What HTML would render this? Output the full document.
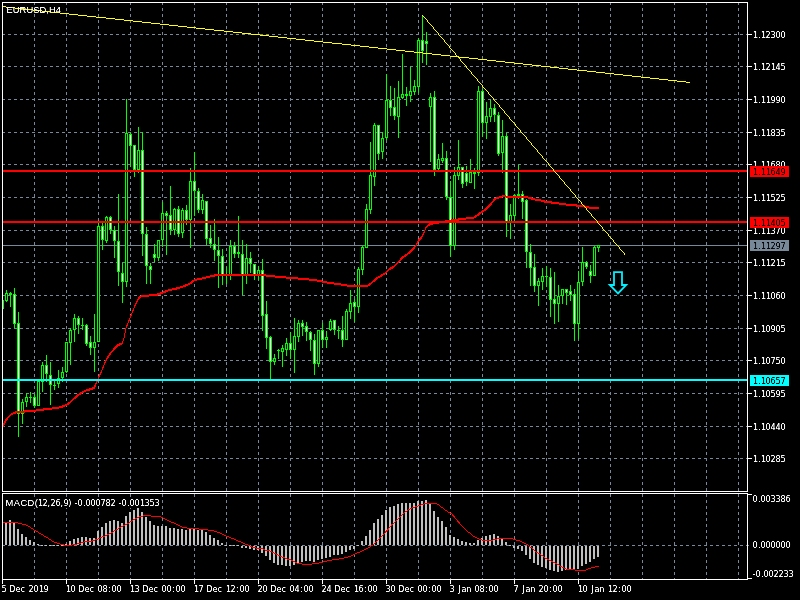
<!DOCTYPE html>
<html><head><meta charset="utf-8"><title>EURUSD,H4</title>
<style>
html,body{margin:0;padding:0;background:#000;width:800px;height:600px;overflow:hidden}
svg{display:block}
text{font-family:"DejaVu Sans Condensed","DejaVu Sans","Liberation Sans",sans-serif;font-size:9px;fill:#fff;stroke:#fff;stroke-width:0.03px}
text.a,tspan.a{font-family:"Liberation Sans",sans-serif;font-size:9.33px;stroke-width:0.02px}
text.k{fill:#000;stroke:#000}
</style></head><body>
<svg width="800" height="600" viewBox="0 0 800 600">
<defs><filter id="bt" x="0" y="0" width="100%" height="100%" filterUnits="userSpaceOnUse" color-interpolation-filters="sRGB"><feComponentTransfer><feFuncA type="table" tableValues="0 0.08 0.6 0.95 1"/></feComponentTransfer></filter></defs>
<rect width="800" height="600" fill="#000"/>
<g shape-rendering="crispEdges" stroke="#778899" stroke-width="1" fill="none" stroke-dasharray="3 3">
<line x1="2" x2="747" y1="34.5" y2="34.5"/>
<line x1="2" x2="747" y1="66.5" y2="66.5"/>
<line x1="2" x2="747" y1="99.5" y2="99.5"/>
<line x1="2" x2="747" y1="132.5" y2="132.5"/>
<line x1="2" x2="747" y1="164.5" y2="164.5"/>
<line x1="2" x2="747" y1="197.5" y2="197.5"/>
<line x1="2" x2="747" y1="230.5" y2="230.5"/>
<line x1="2" x2="747" y1="262.5" y2="262.5"/>
<line x1="2" x2="747" y1="295.5" y2="295.5"/>
<line x1="2" x2="747" y1="328.5" y2="328.5"/>
<line x1="2" x2="747" y1="360.5" y2="360.5"/>
<line x1="2" x2="747" y1="393.5" y2="393.5"/>
<line x1="2" x2="747" y1="426.5" y2="426.5"/>
<line x1="2" x2="747" y1="458.5" y2="458.5"/>
<line x1="34.5" x2="34.5" y1="2" y2="491"/>
<line x1="34.5" x2="34.5" y1="494" y2="579"/>
<line x1="66.5" x2="66.5" y1="2" y2="491"/>
<line x1="66.5" x2="66.5" y1="494" y2="579"/>
<line x1="98.5" x2="98.5" y1="2" y2="491"/>
<line x1="98.5" x2="98.5" y1="494" y2="579"/>
<line x1="130.5" x2="130.5" y1="2" y2="491"/>
<line x1="130.5" x2="130.5" y1="494" y2="579"/>
<line x1="162.5" x2="162.5" y1="2" y2="491"/>
<line x1="162.5" x2="162.5" y1="494" y2="579"/>
<line x1="194.5" x2="194.5" y1="2" y2="491"/>
<line x1="194.5" x2="194.5" y1="494" y2="579"/>
<line x1="226.5" x2="226.5" y1="2" y2="491"/>
<line x1="226.5" x2="226.5" y1="494" y2="579"/>
<line x1="258.5" x2="258.5" y1="2" y2="491"/>
<line x1="258.5" x2="258.5" y1="494" y2="579"/>
<line x1="290.5" x2="290.5" y1="2" y2="491"/>
<line x1="290.5" x2="290.5" y1="494" y2="579"/>
<line x1="322.5" x2="322.5" y1="2" y2="491"/>
<line x1="322.5" x2="322.5" y1="494" y2="579"/>
<line x1="354.5" x2="354.5" y1="2" y2="491"/>
<line x1="354.5" x2="354.5" y1="494" y2="579"/>
<line x1="386.5" x2="386.5" y1="2" y2="491"/>
<line x1="386.5" x2="386.5" y1="494" y2="579"/>
<line x1="418.5" x2="418.5" y1="2" y2="491"/>
<line x1="418.5" x2="418.5" y1="494" y2="579"/>
<line x1="450.5" x2="450.5" y1="2" y2="491"/>
<line x1="450.5" x2="450.5" y1="494" y2="579"/>
<line x1="482.5" x2="482.5" y1="2" y2="491"/>
<line x1="482.5" x2="482.5" y1="494" y2="579"/>
<line x1="514.5" x2="514.5" y1="2" y2="491"/>
<line x1="514.5" x2="514.5" y1="494" y2="579"/>
<line x1="546.5" x2="546.5" y1="2" y2="491"/>
<line x1="546.5" x2="546.5" y1="494" y2="579"/>
<line x1="578.5" x2="578.5" y1="2" y2="491"/>
<line x1="578.5" x2="578.5" y1="494" y2="579"/>
<line x1="610.5" x2="610.5" y1="2" y2="491"/>
<line x1="610.5" x2="610.5" y1="494" y2="579"/>
<line x1="642.5" x2="642.5" y1="2" y2="491"/>
<line x1="642.5" x2="642.5" y1="494" y2="579"/>
<line x1="674.5" x2="674.5" y1="2" y2="491"/>
<line x1="674.5" x2="674.5" y1="494" y2="579"/>
<line x1="706.5" x2="706.5" y1="2" y2="491"/>
<line x1="706.5" x2="706.5" y1="494" y2="579"/>
<line x1="738.5" x2="738.5" y1="2" y2="491"/>
<line x1="738.5" x2="738.5" y1="494" y2="579"/>
<line x1="2" x2="751" y1="545.5" y2="545.5"/>
</g>
<g shape-rendering="crispEdges">
<rect x="3" y="245" width="744" height="1" fill="#778899"/>
<rect x="3" y="300" width="1" height="9" fill="#00ff00"/>
<path fill="#00ff00" d="M6 290h1v12h-1zM10 292h1v15h-1zM14 288h1v40h-1zM18 312h1v125h-1zM22 399h1v25h-1zM26 393h1v14h-1zM30 392h1v11h-1zM34 394h1v14h-1zM38 381h1v25h-1zM42 362h1v30h-1zM46 355h1v27h-1zM50 362h1v43h-1zM54 381h1v9h-1zM58 370h1v18h-1zM62 367h1v15h-1zM66 342h1v31h-1zM70 328h1v37h-1zM74 314h1v28h-1zM78 316h1v18h-1zM82 318h1v12h-1zM86 324h1v22h-1zM90 336h1v19h-1zM94 314h1v58h-1zM98 223h1v119h-1zM102 223h1v27h-1zM106 216h1v27h-1zM110 216h1v18h-1zM114 226h1v32h-1zM118 194h1v92h-1zM122 263h1v40h-1zM126 99h1v188h-1zM130 132h1v35h-1zM134 145h1v32h-1zM138 127h1v46h-1zM142 132h1v124h-1zM146 227h1v57h-1zM150 263h1v21h-1zM154 244h1v18h-1zM158 240h1v21h-1zM162 202h1v45h-1zM166 211h1v44h-1zM170 186h1v49h-1zM174 208h1v27h-1zM178 206h1v31h-1zM182 208h1v30h-1zM186 205h1v20h-1zM190 168h1v80h-1zM194 152h1v64h-1zM198 188h1v25h-1zM202 194h1v20h-1zM206 201h1v44h-1zM210 225h1v23h-1zM214 219h1v42h-1zM218 237h1v51h-1zM222 249h1v36h-1zM226 267h1v17h-1zM230 240h1v40h-1zM234 242h1v16h-1zM238 216h1v42h-1zM242 240h1v55h-1zM246 244h1v40h-1zM250 252h1v21h-1zM254 264h1v16h-1zM258 266h1v14h-1zM262 259h1v72h-1zM266 301h1v48h-1zM270 336h1v44h-1zM274 354h1v11h-1zM278 349h1v10h-1zM282 345h1v22h-1zM286 338h1v18h-1zM290 332h1v27h-1zM294 318h1v55h-1zM298 320h1v22h-1zM302 320h1v16h-1zM306 322h1v19h-1zM310 331h1v20h-1zM314 334h1v41h-1zM318 330h1v37h-1zM322 323h1v25h-1zM326 331h1v17h-1zM330 319h1v12h-1zM334 320h1v15h-1zM338 326h1v13h-1zM342 316h1v31h-1zM346 309h1v31h-1zM350 290h1v29h-1zM354 299h1v23h-1zM358 267h1v46h-1zM362 246h1v29h-1zM366 204h1v44h-1zM370 142h1v72h-1zM374 123h1v63h-1zM378 125h1v35h-1zM382 132h1v27h-1zM386 74h1v66h-1zM390 86h1v30h-1zM394 88h1v32h-1zM398 81h1v57h-1zM402 54h1v45h-1zM406 87h1v19h-1zM410 67h1v35h-1zM414 80h1v15h-1zM418 38h1v55h-1zM422 15h1v48h-1zM426 32h1v33h-1zM430 93h1v69h-1zM434 91h1v85h-1zM438 154h1v16h-1zM442 143h1v20h-1zM446 151h1v49h-1zM450 181h1v76h-1zM454 167h1v83h-1zM458 140h1v40h-1zM462 167h1v21h-1zM466 166h1v20h-1zM470 159h1v24h-1zM474 168h1v21h-1zM478 86h1v90h-1zM482 89h1v48h-1zM486 102h1v37h-1zM490 100h1v22h-1zM494 104h1v18h-1zM498 112h1v44h-1zM502 120h1v53h-1zM506 133h1v104h-1zM510 204h1v35h-1zM514 194h1v27h-1zM518 165h1v34h-1zM522 191h1v28h-1zM526 199h1v69h-1zM530 244h1v42h-1zM534 254h1v38h-1zM538 278h1v28h-1zM542 268h1v22h-1zM546 266h1v21h-1zM550 268h1v49h-1zM554 272h1v52h-1zM558 285h1v37h-1zM562 289h1v15h-1zM566 289h1v16h-1zM570 285h1v16h-1zM574 289h1v52h-1zM578 271h1v68h-1zM582 247h1v39h-1zM586 261h1v8h-1zM590 265h1v18h-1zM594 246h1v30h-1zM598 245h1v7h-1z"/>
<path fill="#00ff00" d="M5 293h3v8h-3zM9 293h3v2h-3zM13 294h3v30h-3zM17 323h3v91h-3zM21 402h3v12h-3zM25 397h3v5h-3zM29 397h3v1h-3zM33 397h3v9h-3zM37 381h3v25h-3zM41 365h3v17h-3zM45 365h3v9h-3zM49 375h3v10h-3zM53 385h3v1h-3zM57 378h3v6h-3zM61 372h3v6h-3zM65 342h3v30h-3zM69 330h3v13h-3zM73 318h3v12h-3zM77 318h3v7h-3zM81 325h3v1h-3zM85 325h3v19h-3zM89 342h3v6h-3zM93 342h3v6h-3zM97 226h3v116h-3zM101 226h3v14h-3zM105 217h3v24h-3zM109 217h3v13h-3zM113 230h3v11h-3zM117 241h3v31h-3zM121 273h3v9h-3zM125 133h3v149h-3zM129 134h3v12h-3zM133 145h3v25h-3zM137 150h3v20h-3zM141 150h3v84h-3zM145 234h3v32h-3zM149 266h3v4h-3zM153 254h3v4h-3zM157 240h3v18h-3zM161 213h3v27h-3zM165 213h3v3h-3zM169 215h3v15h-3zM173 209h3v21h-3zM177 209h3v25h-3zM181 210h3v23h-3zM185 210h3v10h-3zM189 181h3v39h-3zM193 181h3v10h-3zM197 191h3v19h-3zM201 200h3v10h-3zM205 201h3v38h-3zM209 238h3v6h-3zM213 244h3v6h-3zM217 250h3v6h-3zM221 256h3v19h-3zM225 275h3v1h-3zM229 246h3v30h-3zM233 246h3v8h-3zM237 252h3v2h-3zM241 254h3v22h-3zM245 258h3v18h-3zM249 258h3v6h-3zM253 264h3v12h-3zM257 270h3v6h-3zM261 270h3v46h-3zM265 314h3v24h-3zM269 337h3v25h-3zM273 358h3v4h-3zM277 350h3v1h-3zM281 348h3v4h-3zM285 343h3v7h-3zM289 343h3v7h-3zM293 336h3v14h-3zM297 323h3v14h-3zM301 323h3v4h-3zM305 326h3v6h-3zM309 332h3v8h-3zM313 340h3v24h-3zM317 330h3v34h-3zM321 330h3v10h-3zM325 337h3v3h-3zM329 321h3v9h-3zM333 320h3v10h-3zM337 330h3v1h-3zM341 330h3v10h-3zM345 311h3v29h-3zM349 303h3v9h-3zM353 302h3v5h-3zM357 269h3v38h-3zM361 247h3v23h-3zM365 209h3v39h-3zM369 175h3v35h-3zM373 125h3v52h-3zM377 125h3v29h-3zM381 138h3v14h-3zM385 100h3v38h-3zM389 100h3v8h-3zM393 107h3v9h-3zM397 97h3v20h-3zM401 94h3v4h-3zM405 94h3v2h-3zM409 91h3v5h-3zM413 86h3v6h-3zM417 40h3v47h-3zM421 40h3v11h-3zM425 41h3v3h-3zM429 97h3v10h-3zM433 97h3v73h-3zM437 159h3v10h-3zM441 158h3v3h-3zM445 158h3v39h-3zM449 197h3v49h-3zM453 175h3v71h-3zM457 167h3v9h-3zM461 167h3v17h-3zM465 173h3v9h-3zM469 172h3v11h-3zM473 172h3v2h-3zM477 91h3v82h-3zM481 91h3v32h-3zM485 116h3v7h-3zM489 108h3v9h-3zM493 108h3v7h-3zM497 115h3v39h-3zM501 136h3v17h-3zM505 136h3v86h-3zM509 215h3v7h-3zM513 195h3v21h-3zM517 194h3v2h-3zM521 194h3v8h-3zM525 200h3v52h-3zM529 252h3v16h-3zM533 267h3v19h-3zM537 281h3v5h-3zM541 276h3v6h-3zM545 276h3v1h-3zM549 277h3v23h-3zM553 299h3v5h-3zM557 296h3v8h-3zM561 289h3v7h-3zM565 289h3v4h-3zM569 291h3v4h-3zM573 294h3v30h-3zM577 282h3v42h-3zM581 262h3v20h-3zM585 262h3v5h-3zM589 271h3v5h-3zM593 247h3v29h-3zM597 245h3v3h-3z"/>
<path fill="#fff" d="M14 295h1v28h-1zM18 324h1v89h-1zM34 398h1v7h-1zM46 366h1v7h-1zM50 376h1v8h-1zM78 319h1v5h-1zM86 326h1v17h-1zM90 343h1v4h-1zM102 227h1v12h-1zM110 218h1v11h-1zM114 231h1v9h-1zM118 242h1v29h-1zM122 274h1v7h-1zM130 135h1v10h-1zM134 146h1v23h-1zM142 151h1v82h-1zM146 235h1v30h-1zM150 267h1v2h-1zM154 255h1v2h-1zM166 214h1v1h-1zM170 216h1v13h-1zM178 210h1v23h-1zM186 211h1v8h-1zM194 182h1v8h-1zM198 192h1v17h-1zM206 202h1v36h-1zM210 239h1v4h-1zM214 245h1v4h-1zM218 251h1v4h-1zM222 257h1v17h-1zM234 247h1v6h-1zM242 255h1v20h-1zM250 259h1v4h-1zM254 265h1v10h-1zM262 271h1v44h-1zM266 315h1v22h-1zM270 338h1v23h-1zM290 344h1v5h-1zM302 324h1v2h-1zM306 327h1v4h-1zM310 333h1v6h-1zM314 341h1v22h-1zM322 331h1v8h-1zM334 321h1v8h-1zM342 331h1v8h-1zM354 303h1v3h-1zM378 126h1v27h-1zM390 101h1v6h-1zM394 108h1v7h-1zM422 41h1v9h-1zM426 42h1v1h-1zM434 98h1v71h-1zM446 159h1v37h-1zM450 198h1v47h-1zM462 168h1v15h-1zM466 174h1v7h-1zM482 92h1v30h-1zM494 109h1v5h-1zM498 116h1v37h-1zM506 137h1v84h-1zM522 195h1v6h-1zM526 201h1v50h-1zM530 253h1v14h-1zM534 268h1v17h-1zM550 278h1v21h-1zM554 300h1v3h-1zM566 290h1v2h-1zM570 292h1v2h-1zM574 295h1v28h-1zM586 263h1v3h-1zM590 272h1v3h-1z"/>
<path fill="#000" d="M6 294h1v6h-1zM22 403h1v10h-1zM26 398h1v3h-1zM38 382h1v23h-1zM42 366h1v15h-1zM58 379h1v4h-1zM62 373h1v4h-1zM66 343h1v28h-1zM70 331h1v11h-1zM74 319h1v10h-1zM94 343h1v4h-1zM98 227h1v114h-1zM106 218h1v22h-1zM126 134h1v147h-1zM138 151h1v18h-1zM158 241h1v16h-1zM162 214h1v25h-1zM174 210h1v19h-1zM182 211h1v21h-1zM190 182h1v37h-1zM202 201h1v8h-1zM230 247h1v28h-1zM246 259h1v16h-1zM258 271h1v4h-1zM274 359h1v2h-1zM282 349h1v2h-1zM286 344h1v5h-1zM294 337h1v12h-1zM298 324h1v12h-1zM318 331h1v32h-1zM326 338h1v1h-1zM330 322h1v7h-1zM346 312h1v27h-1zM350 304h1v7h-1zM358 270h1v36h-1zM362 248h1v21h-1zM366 210h1v37h-1zM370 176h1v33h-1zM374 126h1v50h-1zM382 139h1v12h-1zM386 101h1v36h-1zM398 98h1v18h-1zM402 95h1v2h-1zM410 92h1v3h-1zM414 87h1v4h-1zM418 41h1v45h-1zM430 98h1v8h-1zM438 160h1v8h-1zM442 159h1v1h-1zM454 176h1v69h-1zM458 168h1v7h-1zM470 173h1v9h-1zM478 92h1v80h-1zM486 117h1v5h-1zM490 109h1v7h-1zM502 137h1v15h-1zM510 216h1v5h-1zM514 196h1v19h-1zM538 282h1v3h-1zM542 277h1v4h-1zM558 297h1v6h-1zM562 290h1v5h-1zM578 283h1v40h-1zM582 263h1v18h-1zM594 248h1v27h-1zM598 246h1v1h-1z"/>
<path fill="#ff0000" d="M3 423h1v4h-1zM4 421h1v4h-1zM5 419h1v4h-1zM6 418h1v3h-1zM7 417h1v3h-1zM8 416h1v2h-1zM9 415h1v2h-1zM10 414h1v2h-1zM11 413h2v2h-2zM13 412h2v2h-2zM15 411h1v3h-1zM16 411h8v2h-8zM24 410h1v3h-1zM25 410h11v2h-11zM36 409h7v2h-7zM43 408h1v3h-1zM44 408h8v2h-8zM52 407h7v2h-7zM59 406h3v2h-3zM62 405h1v3h-1zM63 405h2v2h-2zM65 404h2v2h-2zM67 403h1v2h-1zM68 402h1v3h-1zM69 402h1v2h-1zM70 401h1v2h-1zM71 400h1v2h-1zM72 399h1v2h-1zM73 398h1v2h-1zM74 397h1v2h-1zM75 396h1v3h-1zM76 395h1v3h-1zM77 394h1v3h-1zM78 394h1v2h-1zM79 393h1v2h-1zM80 392h1v3h-1zM81 392h1v2h-1zM82 391h2v2h-2zM84 390h2v2h-2zM86 389h3v2h-3zM89 388h1v3h-1zM90 388h2v2h-2zM92 387h1v3h-1zM93 387h1v2h-1zM94 385h1v4h-1zM95 383h1v4h-1zM96 381h1v3h-1zM97 379h1v3h-1zM98 376h1v3h-1zM99 374h1v3h-1zM100 372h1v3h-1zM101 370h1v3h-1zM102 367h1v3h-1zM103 365h1v3h-1zM104 362h1v3h-1zM105 360h1v3h-1zM106 358h1v3h-1zM107 356h1v3h-1zM108 355h1v3h-1zM109 353h1v3h-1zM110 352h1v3h-1zM111 351h1v2h-1zM112 350h1v2h-1zM113 348h1v3h-1zM114 347h1v3h-1zM115 346h1v3h-1zM116 345h1v3h-1zM117 344h1v3h-1zM118 344h1v2h-1zM119 343h1v3h-1zM120 343h2v2h-2zM122 341h1v3h-1zM123 338h1v3h-1zM124 333h1v5h-1zM125 328h1v5h-1zM126 325h1v3h-1zM127 323h1v3h-1zM128 320h1v3h-1zM129 318h1v3h-1zM130 315h1v3h-1zM131 313h1v3h-1zM132 310h1v3h-1zM133 308h1v3h-1zM134 305h1v3h-1zM135 303h1v3h-1zM136 301h1v3h-1zM137 299h1v3h-1zM138 297h1v3h-1zM139 296h1v3h-1zM140 296h1v2h-1zM141 295h8v2h-8zM149 294h8v2h-8zM157 293h1v3h-1zM158 293h2v2h-2zM160 292h1v3h-1zM161 292h2v2h-2zM163 291h2v2h-2zM165 290h1v3h-1zM166 290h2v2h-2zM168 289h4v2h-4zM172 288h4v2h-4zM176 287h1v3h-1zM177 287h3v2h-3zM180 286h3v2h-3zM183 285h2v2h-2zM185 284h1v3h-1zM186 284h2v2h-2zM188 283h2v2h-2zM190 282h1v2h-1zM191 281h1v3h-1zM192 280h1v3h-1zM193 280h1v2h-1zM194 279h3v2h-3zM197 278h5v2h-5zM202 277h4v2h-4zM206 276h4v2h-4zM210 275h4v2h-4zM214 274h1v3h-1zM215 274h51v2h-51zM266 275h9v2h-9zM275 276h11v2h-11zM286 277h12v2h-12zM298 278h11v2h-11zM309 279h8v2h-8zM317 280h5v2h-5zM322 281h5v2h-5zM327 282h7v2h-7zM334 283h7v2h-7zM341 284h6v2h-6zM347 285h21v2h-21zM368 284h1v2h-1zM369 283h1v3h-1zM370 283h1v2h-1zM371 282h1v2h-1zM372 281h1v2h-1zM373 280h1v2h-1zM374 279h1v3h-1zM375 278h1v3h-1zM376 277h1v3h-1zM377 277h1v2h-1zM378 276h2v2h-2zM380 275h1v2h-1zM381 274h1v3h-1zM382 274h1v2h-1zM383 273h2v2h-2zM385 272h1v2h-1zM386 271h1v2h-1zM387 270h1v2h-1zM388 269h1v2h-1zM389 268h1v2h-1zM390 267h1v3h-1zM391 267h1v2h-1zM392 266h1v3h-1zM393 266h1v2h-1zM394 265h1v2h-1zM395 264h1v2h-1zM396 263h1v2h-1zM397 262h1v2h-1zM398 261h1v2h-1zM399 260h1v2h-1zM400 258h1v3h-1zM401 257h1v3h-1zM402 256h1v3h-1zM403 256h1v2h-1zM404 255h1v2h-1zM405 254h1v3h-1zM406 254h1v2h-1zM407 253h1v2h-1zM408 252h1v2h-1zM409 251h1v3h-1zM410 250h1v3h-1zM411 249h1v3h-1zM412 248h1v3h-1zM413 247h1v3h-1zM414 246h1v3h-1zM415 245h1v2h-1zM416 243h1v3h-1zM417 241h1v3h-1zM418 239h1v3h-1zM419 238h1v3h-1zM420 237h1v3h-1zM421 236h1v3h-1zM422 234h1v3h-1zM423 232h1v3h-1zM424 230h1v3h-1zM425 227h1v3h-1zM426 226h1v2h-1zM427 225h1v2h-1zM428 224h1v2h-1zM429 223h1v3h-1zM430 223h3v2h-3zM433 222h6v2h-6zM439 221h6v2h-6zM445 220h6v2h-6zM451 219h1v3h-1zM452 219h6v2h-6zM458 218h1v3h-1zM459 218h7v2h-7zM466 217h8v2h-8zM474 216h1v2h-1zM475 215h1v3h-1zM476 215h1v2h-1zM477 214h1v2h-1zM478 213h1v3h-1zM479 212h1v3h-1zM480 212h1v2h-1zM481 211h1v2h-1zM482 210h1v3h-1zM483 210h1v2h-1zM484 209h1v2h-1zM485 208h1v3h-1zM486 207h1v3h-1zM487 206h1v3h-1zM488 205h1v3h-1zM489 204h1v3h-1zM490 203h1v3h-1zM491 202h1v3h-1zM492 201h1v2h-1zM493 199h1v3h-1zM494 198h1v3h-1zM495 198h1v2h-1zM496 197h3v2h-3zM499 196h3v2h-3zM502 195h4v2h-4zM506 196h22v2h-22zM528 197h3v2h-3zM531 197h1v3h-1zM532 198h3v2h-3zM535 199h6v2h-6zM541 200h3v2h-3zM544 200h1v3h-1zM545 201h6v2h-6zM551 201h1v3h-1zM552 202h7v2h-7zM559 203h7v2h-7zM566 204h10v2h-10zM576 204h1v3h-1zM577 205h7v2h-7zM584 205h1v3h-1zM585 206h4v2h-4zM589 207h10v2h-10z"/>
<rect x="3" y="170" width="744" height="2" fill="#ff0000"/>
<rect x="3" y="221" width="744" height="2" fill="#ff0000"/>
<rect x="3" y="379" width="744" height="2" fill="#00ffff"/>
<path fill="#ffff00" d="M3 6h3v1h-3zM6 7h9v1h-9zM15 8h9v1h-9zM24 9h9v1h-9zM33 10h9v1h-9zM42 11h9v1h-9zM51 12h9v1h-9zM60 13h9v1h-9zM69 14h9v1h-9zM78 15h9v1h-9zM87 16h9v1h-9zM96 17h10v1h-10zM106 18h9v1h-9zM115 19h9v1h-9zM124 20h9v1h-9zM133 21h9v1h-9zM142 22h9v1h-9zM151 23h9v1h-9zM160 24h9v1h-9zM169 25h9v1h-9zM178 26h9v1h-9zM187 27h9v1h-9zM196 28h9v1h-9zM205 29h9v1h-9zM214 30h10v1h-10zM224 31h9v1h-9zM233 32h9v1h-9zM242 33h9v1h-9zM251 34h9v1h-9zM260 35h9v1h-9zM269 36h9v1h-9zM278 37h9v1h-9zM287 38h9v1h-9zM296 39h9v1h-9zM305 40h9v1h-9zM314 41h9v1h-9zM323 42h9v1h-9zM332 43h10v1h-10zM342 44h9v1h-9zM351 45h9v1h-9zM360 46h9v1h-9zM369 47h9v1h-9zM378 48h9v1h-9zM387 49h9v1h-9zM396 50h9v1h-9zM405 51h9v1h-9zM414 52h9v1h-9zM423 53h9v1h-9zM432 54h9v1h-9zM441 55h9v1h-9zM450 56h9v1h-9zM459 57h10v1h-10zM469 58h9v1h-9zM478 59h9v1h-9zM487 60h9v1h-9zM496 61h9v1h-9zM505 62h9v1h-9zM514 63h9v1h-9zM523 64h9v1h-9zM532 65h9v1h-9zM541 66h9v1h-9zM550 67h9v1h-9zM559 68h9v1h-9zM568 69h9v1h-9zM577 70h10v1h-10zM587 71h9v1h-9zM596 72h9v1h-9zM605 73h9v1h-9zM614 74h9v1h-9zM623 75h9v1h-9zM632 76h9v1h-9zM641 77h9v1h-9zM650 78h9v1h-9zM659 79h9v1h-9zM668 80h9v1h-9zM677 81h9v1h-9zM686 82h4v1h-4z"/>
<path fill="#ffff00" d="M422 15h1v1h-1zM423 16h1v1h-1zM424 17h1v1h-1zM425 18h1v1h-1zM426 19h1v1h-1zM427 20h1v2h-1zM428 22h1v1h-1zM429 23h1v1h-1zM430 24h1v1h-1zM431 25h1v1h-1zM432 26h1v1h-1zM433 27h1v2h-1zM434 29h1v1h-1zM435 30h1v1h-1zM436 31h1v1h-1zM437 32h1v1h-1zM438 33h1v2h-1zM439 35h1v1h-1zM440 36h1v1h-1zM441 37h1v1h-1zM442 38h1v1h-1zM443 39h1v1h-1zM444 40h1v2h-1zM445 42h1v1h-1zM446 43h1v1h-1zM447 44h1v1h-1zM448 45h1v1h-1zM449 46h1v2h-1zM450 48h1v1h-1zM451 49h1v1h-1zM452 50h1v1h-1zM453 51h1v1h-1zM454 52h1v1h-1zM455 53h1v2h-1zM456 55h1v1h-1zM457 56h1v1h-1zM458 57h1v1h-1zM459 58h1v1h-1zM460 59h1v2h-1zM461 61h1v1h-1zM462 62h1v1h-1zM463 63h1v1h-1zM464 64h1v1h-1zM465 65h1v1h-1zM466 66h1v2h-1zM467 68h1v1h-1zM468 69h1v1h-1zM469 70h1v1h-1zM470 71h1v1h-1zM471 72h1v2h-1zM472 74h1v1h-1zM473 75h1v1h-1zM474 76h1v1h-1zM475 77h1v1h-1zM476 78h1v1h-1zM477 79h1v2h-1zM478 81h1v1h-1zM479 82h1v1h-1zM480 83h1v1h-1zM481 84h1v1h-1zM482 85h1v2h-1zM483 87h1v1h-1zM484 88h1v1h-1zM485 89h1v1h-1zM486 90h1v1h-1zM487 91h1v1h-1zM488 92h1v2h-1zM489 94h1v1h-1zM490 95h1v1h-1zM491 96h1v1h-1zM492 97h1v1h-1zM493 98h1v2h-1zM494 100h1v1h-1zM495 101h1v1h-1zM496 102h1v1h-1zM497 103h1v1h-1zM498 104h1v1h-1zM499 105h1v2h-1zM500 107h1v1h-1zM501 108h1v1h-1zM502 109h1v1h-1zM503 110h1v1h-1zM504 111h1v2h-1zM505 113h1v1h-1zM506 114h1v1h-1zM507 115h1v1h-1zM508 116h1v1h-1zM509 117h1v2h-1zM510 119h1v1h-1zM511 120h1v1h-1zM512 121h1v1h-1zM513 122h1v1h-1zM514 123h1v1h-1zM515 124h1v2h-1zM516 126h1v1h-1zM517 127h1v1h-1zM518 128h1v1h-1zM519 129h1v1h-1zM520 130h1v2h-1zM521 132h1v1h-1zM522 133h1v1h-1zM523 134h1v1h-1zM524 135h1v1h-1zM525 136h1v1h-1zM526 137h1v2h-1zM527 139h1v1h-1zM528 140h1v1h-1zM529 141h1v1h-1zM530 142h1v1h-1zM531 143h1v2h-1zM532 145h1v1h-1zM533 146h1v1h-1zM534 147h1v1h-1zM535 148h1v1h-1zM536 149h1v1h-1zM537 150h1v2h-1zM538 152h1v1h-1zM539 153h1v1h-1zM540 154h1v1h-1zM541 155h1v1h-1zM542 156h1v2h-1zM543 158h1v1h-1zM544 159h1v1h-1zM545 160h1v1h-1zM546 161h1v1h-1zM547 162h1v1h-1zM548 163h1v2h-1zM549 165h1v1h-1zM550 166h1v1h-1zM551 167h1v1h-1zM552 168h1v1h-1zM553 169h1v2h-1zM554 171h1v1h-1zM555 172h1v1h-1zM556 173h1v1h-1zM557 174h1v1h-1zM558 175h1v1h-1zM559 176h1v2h-1zM560 178h1v1h-1zM561 179h1v1h-1zM562 180h1v1h-1zM563 181h1v1h-1zM564 182h1v2h-1zM565 184h1v1h-1zM566 185h1v1h-1zM567 186h1v1h-1zM568 187h1v1h-1zM569 188h1v1h-1zM570 189h1v2h-1zM571 191h1v1h-1zM572 192h1v1h-1zM573 193h1v1h-1zM574 194h1v1h-1zM575 195h1v2h-1zM576 197h1v1h-1zM577 198h1v1h-1zM578 199h1v1h-1zM579 200h1v1h-1zM580 201h1v1h-1zM581 202h1v2h-1zM582 204h1v1h-1zM583 205h1v1h-1zM584 206h1v1h-1zM585 207h1v1h-1zM586 208h1v2h-1zM587 210h1v1h-1zM588 211h1v1h-1zM589 212h1v1h-1zM590 213h1v1h-1zM591 214h1v2h-1zM592 216h1v1h-1zM593 217h1v1h-1zM594 218h1v1h-1zM595 219h1v1h-1zM596 220h1v1h-1zM597 221h1v2h-1zM598 223h1v1h-1zM599 224h1v1h-1zM600 225h1v1h-1zM601 226h1v1h-1zM602 227h1v2h-1zM603 229h1v1h-1zM604 230h1v1h-1zM605 231h1v1h-1zM606 232h1v1h-1zM607 233h1v1h-1zM608 234h1v2h-1zM609 236h1v1h-1zM610 237h1v1h-1zM611 238h1v1h-1zM612 239h1v1h-1zM613 240h1v2h-1zM614 242h1v1h-1zM615 243h1v1h-1zM616 244h1v1h-1zM617 245h1v1h-1zM618 246h1v1h-1zM619 247h1v2h-1zM620 249h1v1h-1zM621 250h1v1h-1zM622 251h1v1h-1zM623 252h1v1h-1zM624 253h1v2h-1z"/>
</g>
<path d="M614 272.1H622V285H626.2L618 293.4L609.8 285H614Z" fill="#000" stroke="#00f0ff" stroke-width="1.8" stroke-linejoin="miter"/>
<g shape-rendering="crispEdges">
<path fill="#c0c0c0" d="M5 522h2v23h-2zM9 520h2v25h-2zM13 522h2v23h-2zM17 529h2v16h-2zM21 534h2v11h-2zM25 537h2v8h-2zM29 540h2v5h-2zM33 542h2v3h-2zM37 544h2v1h-2zM41 545h2v1h-2zM45 545h2v1h-2zM49 545h2v1h-2zM53 545h2v1h-2zM57 545h2v1h-2zM61 545h2v1h-2zM65 544h2v1h-2zM69 541h2v4h-2zM73 539h2v6h-2zM77 538h2v7h-2zM81 537h2v8h-2zM85 537h2v8h-2zM89 538h2v7h-2zM93 538h2v7h-2zM97 531h2v14h-2zM101 527h2v18h-2zM105 523h2v22h-2zM109 521h2v24h-2zM113 520h2v25h-2zM117 521h2v24h-2zM121 523h2v22h-2zM125 516h2v29h-2zM129 512h2v33h-2zM133 510h2v35h-2zM137 508h2v37h-2zM141 512h2v33h-2zM145 517h2v28h-2zM149 521h2v24h-2zM153 525h2v20h-2zM157 526h2v19h-2zM161 526h2v19h-2zM165 526h2v19h-2zM169 528h2v17h-2zM173 528h2v17h-2zM177 529h2v16h-2zM181 529h2v16h-2zM185 530h2v15h-2zM189 529h2v16h-2zM193 529h2v16h-2zM197 530h2v15h-2zM201 530h2v15h-2zM205 532h2v13h-2zM209 535h2v10h-2zM213 538h2v7h-2zM217 540h2v5h-2zM221 543h2v2h-2zM225 545h2v1h-2zM229 545h2v1h-2zM233 545h2v1h-2zM237 545h2v1h-2zM241 546h2v2h-2zM245 546h2v2h-2zM249 546h2v3h-2zM253 546h2v4h-2zM257 546h2v4h-2zM261 546h2v7h-2zM265 546h2v10h-2zM269 546h2v14h-2zM273 546h2v17h-2zM277 546h2v19h-2zM281 546h2v19h-2zM285 546h2v20h-2zM289 546h2v20h-2zM293 546h2v19h-2zM297 546h2v18h-2zM301 546h2v16h-2zM305 546h2v15h-2zM309 546h2v15h-2zM313 546h2v16h-2zM317 546h2v14h-2zM321 546h2v13h-2zM325 546h2v12h-2zM329 546h2v11h-2zM333 546h2v9h-2zM337 546h2v9h-2zM341 546h2v8h-2zM345 546h2v6h-2zM349 546h2v4h-2zM353 546h2v3h-2zM357 545h2v1h-2zM361 541h2v4h-2zM365 536h2v9h-2zM369 530h2v15h-2zM373 523h2v22h-2zM377 519h2v26h-2zM381 515h2v30h-2zM385 510h2v35h-2zM389 507h2v38h-2zM393 506h2v39h-2zM397 504h2v41h-2zM401 503h2v42h-2zM405 503h2v42h-2zM409 503h2v42h-2zM413 503h2v42h-2zM417 501h2v44h-2zM421 501h2v44h-2zM425 500h2v45h-2zM429 504h2v41h-2zM433 511h2v34h-2zM437 517h2v28h-2zM441 521h2v24h-2zM445 527h2v18h-2zM449 535h2v10h-2zM453 537h2v8h-2zM457 539h2v6h-2zM461 541h2v4h-2zM465 542h2v3h-2zM469 543h2v2h-2zM473 543h2v2h-2zM477 540h2v5h-2zM481 538h2v7h-2zM485 536h2v9h-2zM489 535h2v10h-2zM493 534h2v11h-2zM497 536h2v9h-2zM501 538h2v7h-2zM505 542h2v3h-2zM509 545h2v1h-2zM513 546h2v2h-2zM517 546h2v3h-2zM521 546h2v5h-2zM525 546h2v9h-2zM529 546h2v13h-2zM533 546h2v17h-2zM537 546h2v19h-2zM541 546h2v21h-2zM545 546h2v22h-2zM549 546h2v24h-2zM553 546h2v25h-2zM557 546h2v26h-2zM561 546h2v25h-2zM565 546h2v24h-2zM569 546h2v23h-2zM573 546h2v24h-2zM577 546h2v23h-2zM581 546h2v20h-2zM585 546h2v18h-2zM589 546h2v16h-2zM593 546h2v13h-2zM597 546h2v11h-2z"/>
<path fill="#ff0000" d="M3 522h15v1h-15zM18 523h4v1h-4zM22 524h4v1h-4zM26 525h2v1h-2zM28 526h2v1h-2zM30 527h1v1h-1zM31 528h2v1h-2zM33 529h1v1h-1zM34 530h2v1h-2zM36 531h2v1h-2zM38 532h1v1h-1zM39 533h2v1h-2zM41 534h2v1h-2zM43 535h1v1h-1zM44 536h2v1h-2zM46 537h2v1h-2zM48 538h1v1h-1zM49 539h2v1h-2zM51 540h1v1h-1zM52 541h2v1h-2zM54 542h3v1h-3zM57 543h3v1h-3zM60 544h4v1h-4zM64 545h8v1h-8zM72 544h5v1h-5zM77 543h4v1h-4zM81 542h3v1h-3zM84 541h8v1h-8zM92 540h3v1h-3zM95 539h3v1h-3zM98 538h2v1h-2zM100 537h2v1h-2zM102 536h3v1h-3zM105 535h2v1h-2zM107 534h2v1h-2zM109 533h2v1h-2zM111 532h2v1h-2zM113 531h1v1h-1zM114 530h2v1h-2zM116 529h2v1h-2zM118 528h1v1h-1zM119 527h2v1h-2zM121 526h2v1h-2zM123 525h2v1h-2zM125 524h2v1h-2zM127 523h2v1h-2zM129 522h1v1h-1zM130 521h2v1h-2zM132 520h1v1h-1zM133 519h2v1h-2zM135 518h2v1h-2zM137 517h2v1h-2zM139 516h4v1h-4zM143 515h8v1h-8zM151 516h10v1h-10zM161 517h2v1h-2zM163 518h2v1h-2zM165 519h2v1h-2zM167 520h2v1h-2zM169 521h2v1h-2zM171 522h3v1h-3zM174 523h2v1h-2zM176 524h2v1h-2zM178 525h2v1h-2zM180 526h2v1h-2zM182 527h5v1h-5zM187 528h12v1h-12zM199 529h9v1h-9zM208 530h6v1h-6zM214 531h3v1h-3zM217 532h3v1h-3zM220 533h2v1h-2zM222 534h2v1h-2zM224 535h2v1h-2zM226 536h3v1h-3zM229 537h2v1h-2zM231 538h3v1h-3zM234 539h2v1h-2zM236 540h2v1h-2zM238 541h3v1h-3zM241 542h2v1h-2zM243 543h2v1h-2zM245 544h3v1h-3zM248 545h2v1h-2zM250 546h2v1h-2zM252 547h4v1h-4zM256 548h7v1h-7zM263 549h2v1h-2zM265 550h5v1h-5zM270 551h2v1h-2zM272 552h2v1h-2zM274 553h2v1h-2zM276 554h2v1h-2zM278 555h2v1h-2zM280 556h2v1h-2zM282 557h3v1h-3zM285 558h2v1h-2zM287 559h4v1h-4zM291 560h2v1h-2zM293 561h2v1h-2zM295 562h2v1h-2zM297 563h5v1h-5zM302 564h10v1h-10zM312 563h7v1h-7zM319 562h4v1h-4zM323 561h4v1h-4zM327 560h5v1h-5zM332 559h7v1h-7zM339 558h5v1h-5zM344 557h4v1h-4zM348 556h3v1h-3zM351 555h2v1h-2zM353 554h2v1h-2zM355 553h2v1h-2zM357 552h3v1h-3zM360 551h2v1h-2zM362 550h2v1h-2zM364 549h2v1h-2zM366 548h2v1h-2zM368 547h2v1h-2zM370 546h1v1h-1zM371 545h2v1h-2zM373 544h1v1h-1zM374 543h1v1h-1zM375 542h1v1h-1zM376 541h1v1h-1zM377 540h1v1h-1zM378 539h1v1h-1zM379 538h1v1h-1zM380 537h1v1h-1zM381 536h1v1h-1zM382 535h1v1h-1zM383 534h1v1h-1zM384 533h1v1h-1zM385 531h1v2h-1zM386 530h1v2h-1zM387 529h1v2h-1zM388 528h1v2h-1zM389 527h1v1h-1zM390 526h1v1h-1zM391 524h1v2h-1zM392 524h1v1h-1zM393 523h1v1h-1zM394 522h1v1h-1zM395 521h1v1h-1zM396 520h1v1h-1zM397 519h1v1h-1zM398 518h1v1h-1zM399 517h1v1h-1zM400 516h1v1h-1zM401 515h1v1h-1zM402 514h1v1h-1zM403 513h1v1h-1zM404 512h1v1h-1zM405 511h2v1h-2zM407 510h1v1h-1zM408 509h2v1h-2zM410 508h2v1h-2zM412 507h3v1h-3zM415 506h3v1h-3zM418 505h3v1h-3zM421 504h3v1h-3zM424 503h13v1h-13zM437 504h2v1h-2zM439 505h1v1h-1zM440 506h1v1h-1zM441 507h2v1h-2zM443 508h1v1h-1zM444 509h1v1h-1zM445 510h2v1h-2zM447 511h1v1h-1zM448 512h2v1h-2zM450 513h2v1h-2zM452 514h1v2h-1zM453 515h1v2h-1zM454 516h1v2h-1zM455 518h1v1h-1zM456 519h1v1h-1zM457 520h1v2h-1zM458 521h1v2h-1zM459 522h1v2h-1zM460 524h1v1h-1zM461 525h1v1h-1zM462 526h1v1h-1zM463 527h1v1h-1zM464 528h1v1h-1zM465 529h1v1h-1zM466 530h1v1h-1zM467 531h1v1h-1zM468 532h2v1h-2zM470 533h1v1h-1zM471 534h1v1h-1zM472 535h1v1h-1zM473 536h2v1h-2zM475 537h2v1h-2zM477 538h2v1h-2zM479 539h3v1h-3zM482 540h11v1h-11zM493 539h4v1h-4zM497 538h16v1h-16zM513 539h3v1h-3zM516 540h4v1h-4zM520 541h2v1h-2zM522 542h2v1h-2zM524 543h2v1h-2zM526 544h2v1h-2zM528 545h1v1h-1zM529 546h1v1h-1zM530 547h2v1h-2zM532 548h1v1h-1zM533 549h1v1h-1zM534 550h1v1h-1zM535 551h1v1h-1zM536 552h2v1h-2zM538 553h2v1h-2zM540 554h1v1h-1zM541 555h2v1h-2zM543 556h1v1h-1zM544 557h1v1h-1zM545 558h2v1h-2zM547 559h2v1h-2zM549 560h2v1h-2zM551 561h2v1h-2zM553 562h2v1h-2zM555 563h2v1h-2zM557 564h2v1h-2zM559 565h1v1h-1zM560 566h2v1h-2zM562 567h2v1h-2zM564 568h2v1h-2zM566 569h9v1h-9zM575 570h11v1h-11zM586 569h2v1h-2zM588 568h3v1h-3zM591 567h4v1h-4zM595 566h4v1h-4z"/>
<path fill="#fff" d="M2 2h746v1h-746zM2 491h746v1h-746zM2 493h746v1h-746zM2 579h746v1h-746zM2 2h1v490h-1zM747 2h1v490h-1zM2 493h1v87h-1zM747 493h1v87h-1zM748 34h4v1h-4zM748 66h4v1h-4zM748 99h4v1h-4zM748 132h4v1h-4zM748 164h4v1h-4zM748 197h4v1h-4zM748 230h4v1h-4zM748 262h4v1h-4zM748 295h4v1h-4zM748 328h4v1h-4zM748 360h4v1h-4zM748 393h4v1h-4zM748 426h4v1h-4zM748 458h4v1h-4zM748 494h4v1h-4zM748 578h4v1h-4zM2 580h1v4h-1zM66 580h1v4h-1zM130 580h1v4h-1zM194 580h1v4h-1zM258 580h1v4h-1zM322 580h1v4h-1zM386 580h1v4h-1zM450 580h1v4h-1zM514 580h1v4h-1zM578 580h1v4h-1z"/>
<rect x="5" y="497" width="155" height="11" fill="#000"/>
</g>
<g filter="url(#bt)">
<text x="753.10 758.13 761.10 765.47 770.47 775.47 780.47" y="38">1.12300</text>
<text x="753.10 758.13 761.10 765.47 771.10 775.47 780.47" y="70">1.12145</text>
<text x="753.10 758.13 761.10 766.10 770.47 775.47 780.47" y="103">1.11990</text>
<text x="753.10 758.13 761.10 766.10 770.47 775.47 780.47" y="136">1.11835</text>
<text x="753.10 758.13 761.10 766.10 770.47 775.47 780.47" y="168">1.11680</text>
<text x="753.10 758.13 761.10 766.10 770.47 775.47 780.47" y="201">1.11525</text>
<text x="753.10 758.13 761.10 766.10 770.47 775.47 780.47" y="234">1.11370</text>
<text x="753.10 758.13 761.10 766.10 770.47 776.10 780.47" y="266">1.11215</text>
<text x="753.10 758.13 761.10 766.10 770.47 775.47 780.47" y="299">1.11060</text>
<text x="753.10 758.13 761.10 765.47 770.47 775.47 780.47" y="332">1.10905</text>
<text x="753.10 758.13 761.10 765.47 770.47 775.47 780.47" y="364">1.10750</text>
<text x="753.10 758.13 761.10 765.47 770.47 775.47 780.47" y="397">1.10595</text>
<text x="753.10 758.13 761.10 765.47 770.47 775.47 780.47" y="430">1.10440</text>
<text x="753.10 758.13 761.10 765.47 770.47 775.47 780.47" y="462">1.10285</text>
</g>
<g shape-rendering="crispEdges">
<rect x="750" y="166" width="39" height="11" fill="#ff0000"/>
<rect x="750" y="217" width="39" height="11" fill="#ff0000"/>
<rect x="750" y="240" width="39" height="11" fill="#778899"/>
<rect x="750" y="375" width="39" height="11" fill="#00ffff"/>
</g>
<g filter="url(#bt)">
<text class="k" x="753.10 758.13 761.10 766.10 770.47 775.47 780.47" y="175">1.11649</text>
<text class="k" x="753.10 758.13 761.10 766.10 770.47 775.47 780.47" y="226">1.11405</text>
<text class="k" x="753.10 758.13 761.10 766.10 770.47 775.47 780.47" y="249">1.11297</text>
<text class="k" x="753.10 758.13 761.10 765.47 770.47 775.47 780.47" y="384">1.10657</text>
<text x="752.47 758.13 760.47 765.47 770.47 775.47 780.47 785.47" y="502">0.003386</text>
<text x="752.47 758.13 760.47 765.47 770.47 775.47 780.47 785.47" y="548">0.000000</text>
<text x="752.60 755.47 761.13 763.47 768.47 773.47 778.47 783.47 788.47" y="577">-0.002233</text>
<text class="a" x="6.5" y="13" letter-spacing="0.08">EURUSD,H4</text>
<text y="506"><tspan class="a" x="5.6" letter-spacing="0.42">MACD(</tspan><tspan x="38.10 42.47 47.60 50.47 55.47 60.60 63.47 68.30 71.00 74.60 77.47 83.13 85.47 90.47 95.47 100.47 105.47 110.47 115.00 118.60 121.47 127.13 129.47 134.47 140.10 144.47 149.47 154.47">12,26,9) -0.000782 -0.001353</tspan></text>
<text x="1.47 6.00 9.20 15.55 20.55 25.00 28.47 33.47 39.10 43.47" y="592">5 Dec 2019</text>
<text x="66.10 70.47 75.00 78.20 84.55 89.55 94.00 97.47 102.47 108.05 111.47 116.47" y="592">10 Dec 08:00</text>
<text x="130.10 134.47 139.00 142.20 148.55 153.55 158.00 161.47 166.47 172.05 175.47 180.47" y="592">13 Dec 00:00</text>
<text x="194.10 198.47 203.00 206.20 212.55 217.55 222.00 226.10 230.47 236.05 239.47 244.47" y="592">17 Dec 12:00</text>
<text x="257.47 262.47 267.00 270.20 276.55 281.55 286.00 289.47 294.47 300.05 303.47 308.47" y="592">20 Dec 04:00</text>
<text x="321.47 326.47 331.00 334.20 340.55 345.55 350.00 354.10 358.47 364.05 367.47 372.47" y="592">24 Dec 16:00</text>
<text x="385.47 390.47 395.00 398.20 404.55 409.55 414.00 417.47 422.47 428.05 431.47 436.47" y="592">30 Dec 00:00</text>
<text x="449.47 454.00 458.20 461.50 466.27 471.00 474.47 479.47 485.05 488.47 493.47" y="592">3 Jan 08:00</text>
<text x="513.47 518.00 522.20 525.50 530.27 535.00 538.47 543.47 549.05 552.47 557.47" y="592">7 Jan 20:00</text>
<text x="578.10 582.47 587.00 591.20 594.50 599.27 604.00 608.10 612.47 618.05 621.47 626.47" y="592">10 Jan 12:00</text>
</g>
</svg></body></html>
